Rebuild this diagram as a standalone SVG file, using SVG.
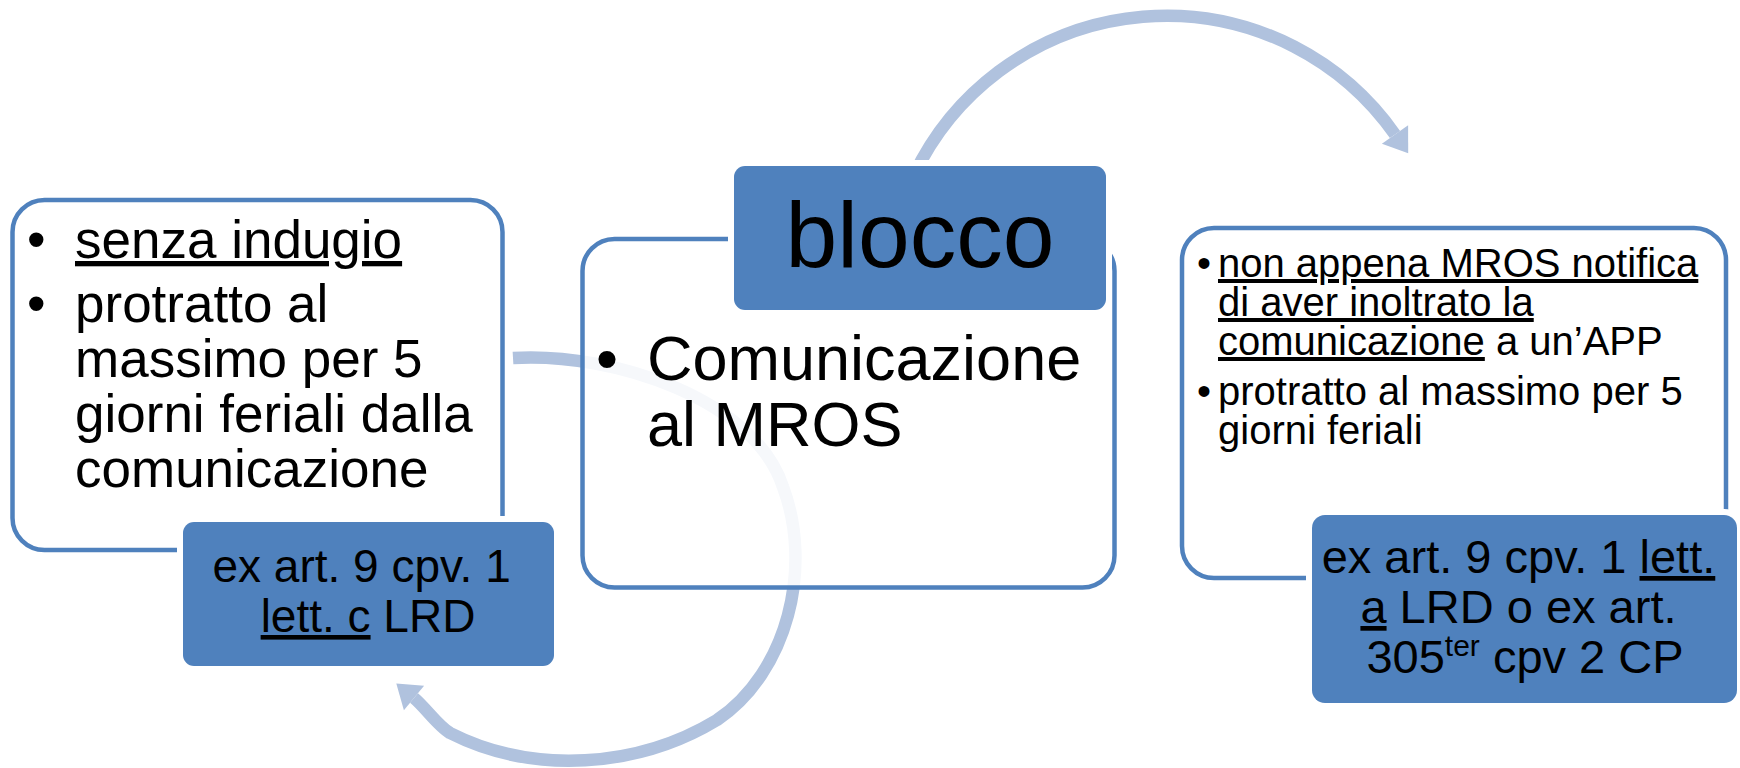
<svg xmlns="http://www.w3.org/2000/svg" width="1740" height="768" viewBox="0 0 1740 768">
  <style>
    text { font-family: "Liberation Sans", Arial, sans-serif; fill: #000; }
    .panel { fill: #fff; fill-opacity: 0.88; stroke: #4F81BD; stroke-width: 4.5; }
    .tag { fill: #4F81BD; stroke: #fff; stroke-width: 12; paint-order: stroke fill; }
    .arc { fill: none; stroke: #B0C2DE; stroke-width: 12.5; }
    .head { fill: #B0C2DE; }
    .u { text-decoration: underline; }
  </style>

  <!-- curved arrows linking the steps -->
  <g id="connectors">
    <path class="arc" d="M 513,358 C 615,352 755,400 783,487 C 813,567 788,672 717,720 C 638,768 533,775 450,733 C 438,726 425,707 414,698"/>
    <polygon class="head" points="424.1,685.7 403.9,710.3 396.3,683.5"/>
    <path class="arc" d="M 914,175 A 279.5 279.5 0 0 1 1395,134.5"/>
    <polygon class="head" points="1408.1,125.3 1381.9,143.7 1408.2,153.3"/>
  </g>

  <!-- left step -->
  <g id="node-left">
    <rect class="panel" x="12.5" y="200" width="490" height="350" rx="32"/>
    <text font-size="53">
      <tspan x="27" y="258">•</tspan>
      <tspan x="75" y="258" class="u">senza indugio</tspan>
      <tspan x="27" y="322">•</tspan>
      <tspan x="75" y="322">protratto al</tspan>
      <tspan x="75" y="377">massimo per 5</tspan>
      <tspan x="75" y="432">giorni feriali dalla</tspan>
      <tspan x="75" y="487">comunicazione</tspan>
    </text>
  </g>
  <g id="tag-left">
    <rect class="tag" x="183" y="522" width="371" height="144" rx="11"/>
    <text font-size="46" text-anchor="middle">
      <tspan x="368" y="582">ex art. 9 cpv. 1</tspan>
      <tspan x="368" y="632"><tspan class="u">lett. c</tspan> LRD</tspan>
    </text>
  </g>

  <!-- centre step -->
  <g id="node-center">
    <rect class="panel" x="582.5" y="239" width="532" height="348.5" rx="32"/>
    <text font-size="63">
      <tspan x="596" y="380">•</tspan>
      <tspan x="647" y="380">Comunicazione</tspan>
      <tspan x="647" y="446">al MROS</tspan>
    </text>
  </g>
  <g id="tag-center">
    <rect class="tag" x="734" y="166" width="372" height="144" rx="11"/>
    <text font-size="93" text-anchor="middle" x="920" y="267">blocco</text>
  </g>

  <!-- right step -->
  <g id="node-right">
    <rect class="panel" x="1182" y="228" width="544" height="350" rx="32"/>
    <text font-size="40">
      <tspan x="1197" y="277">•</tspan>
      <tspan x="1218" y="277" class="u">non appena MROS notifica</tspan>
      <tspan x="1218" y="316" class="u">di aver inoltrato la</tspan>
      <tspan x="1218" y="355"><tspan class="u">comunicazione</tspan> a un’APP</tspan>
      <tspan x="1197" y="405">•</tspan>
      <tspan x="1218" y="405">protratto al massimo per 5</tspan>
      <tspan x="1218" y="444">giorni feriali</tspan>
    </text>
  </g>
  <g id="tag-right">
    <rect class="tag" x="1312" y="515" width="425" height="188" rx="13"/>
    <text font-size="47" text-anchor="middle">
      <tspan x="1525" y="573">ex art. 9 cpv. 1 <tspan class="u">lett.</tspan></tspan>
      <tspan x="1525" y="623"><tspan class="u">a</tspan> LRD o ex art.</tspan>
      <tspan x="1525" y="673">305<tspan font-size="30" dy="-17">ter</tspan><tspan dy="17"> cpv 2 CP</tspan></tspan>
    </text>
  </g>
</svg>
